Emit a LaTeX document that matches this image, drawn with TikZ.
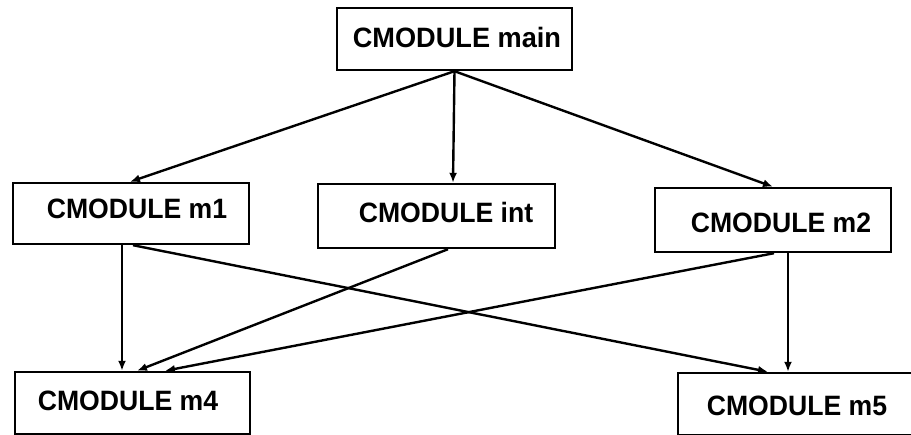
\documentclass[tikz,border=0pt]{standalone}
\usepackage{fontspec}
\setmainfont{Liberation Sans}
\usetikzlibrary{arrows.meta}
\begin{document}
\begin{tikzpicture}[x=1pt,y=-1pt,
  module/.style={draw, line width=2.4pt, minimum width=236pt, minimum height=61pt, inner sep=0pt},
  modlabel/.style={inner sep=0pt, text height=20pt, text depth=0pt, font=\bfseries\fontsize{28}{30}\selectfont},
  link/.style={line width=2.4pt, -{Latex[length=10pt,width=8pt]}}]
  \clip (0,0) rectangle (911,435);
  \fill[white] (0,0) rectangle (911,435);

  % module boxes
  \node[module, minimum width=235pt, minimum height=62pt] (main) at (454.5,39) {};
  \node[module] (m1)  at (131,213.5) {};
  \node[module, minimum width=237pt, minimum height=64pt] (int) at (436.5,216) {};
  \node[module, minimum height=64pt] (m2)  at (773,220) {};
  \node[module, minimum width=235pt, minimum height=62pt] (m4)  at (132.5,403) {};
  \node[module, minimum height=62pt] (m5)  at (796,404) {};

  % box captions
  \node[modlabel] (mainT) at (457,38)  {\scalebox{0.97}[1]{CMODULE main}};
  \node[modlabel] (m1T)   at (137,209) {\scalebox{0.95}[1]{CMODULE m1}};
  \node[modlabel] (intT)  at (446,212.5) {\scalebox{0.95}[1]{CMODULE int}};
  \node[modlabel] (m2T)   at (781,223) {\scalebox{0.95}[1]{CMODULE m2}};
  \node[modlabel] (m4T)   at (128,401) {\scalebox{0.95}[1]{CMODULE m4}};
  \node[modlabel] (m5T)   at (797,406) {\scalebox{0.95}[1]{CMODULE m5}};

  % calls from main
  \draw[link] (main.south) -- ([xshift=-1pt]m1.north);
  \draw[link] (main.south) -- ([xshift=16.5pt]int.north);
  \draw[link] (main.south) -- (m2.north);

  % calls from the second level
  \draw[link] ([xshift=-9pt]m1.south) -- ([xshift=-10.5pt]m4.north);
  \draw[link] ([xshift=2pt]m1.south) -- ([xshift=-28pt]m5.north);
  \draw[link] ([xshift=11.5pt]int.south) -- ([xshift=4.5pt]m4.north);
  \draw[link] ([xshift=1pt]m2.south) -- ([xshift=32.5pt]m4.north);
  \draw[link] ([xshift=15pt]m2.south) -- ([xshift=-8pt]m5.north);
\end{tikzpicture}
\end{document}
